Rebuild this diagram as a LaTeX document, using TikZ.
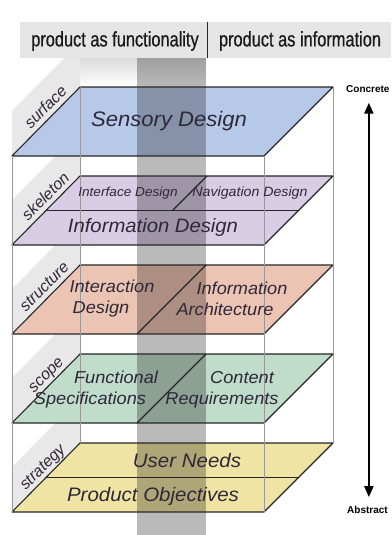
\documentclass[tikz,border=0pt]{standalone}
\usepackage{fontspec}
\setmainfont{Liberation Sans}
\newfontfamily\headfont[FakeStretch=0.78,FakeBold=0.6]{Liberation Sans}
\newfontfamily\layerfont[FakeStretch=1.05]{Liberation Sans}
\usetikzlibrary{calc,arrows.meta}
\definecolor{surfacecol}{RGB}{183,201,232}
\definecolor{skeletoncol}{RGB}{217,205,230}
\definecolor{structurecol}{RGB}{236,196,180}
\definecolor{scopecol}{RGB}{192,220,202}
\definecolor{strategycol}{RGB}{240,228,164}
\definecolor{inkcol}{RGB}{46,40,56}
\tikzset{
	tabfill/.style={fill=black!9},
	tablabel/.style={font=\itshape\fontsize{16}{16}\selectfont, text=inkcol, rotate=45, inner sep=0pt},
	planeedge/.style={draw=black!85, line width=1.1pt, line join=round},
	boxedge/.style={draw=black!40, line width=0.8pt},
	layertext/.style={font=\layerfont\itshape, text=inkcol, inner sep=0pt, align=center},
	sidetext/.style={font=\bfseries\fontsize{10}{12}\selectfont, inner sep=0pt}
}
% #1 top of the plane, #2 fill, #3 tab text, #4 place of the text along the edge
\newcommand{\makelayer}[4]{
	\fill[tabfill] (12,#1+69) -- (80,#1) -- (80,#1-45) -- (12,#1+24) -- cycle;
	\node[tablabel, anchor=base] (#3) at ($(12,#1+69)!#4!(80,#1)+(-3.5,-3.5)$) {#3};
	\fill[#2] (80,#1) -- (333,#1) -- (264,#1+69) -- (12,#1+69) -- cycle;
}
\newcommand{\makeedge}[1]{
	\draw[planeedge] (80,#1) -- (333,#1) -- (264,#1+69) -- (12,#1+69) -- cycle;
}

\begin{document}
\begin{tikzpicture}[x=1pt,y=-1pt]
	\useasboundingbox (0,0) rectangle (391,535);
	\shade[top color=black!14, bottom color=white] (80,58) rectangle (206,87);

	\makelayer{443}{strategycol}{strategy}{0.55}
	\makelayer{354}{scopecol}{scope}{0.6}
	\makelayer{265}{structurecol}{structure}{0.58}
	\makelayer{176}{skeletoncol}{skeleton}{0.6}
	\makelayer{87}{surfacecol}{surface}{0.6}

	% the grey column
	\fill[black, fill opacity=0.27] (137,58) rectangle (206,535);

	\makeedge{87}
	\makeedge{176}
	\makeedge{265}
	\makeedge{354}
	\makeedge{443}
	\draw[planeedge] (46.5,210.5) -- (298.5,210.5);
	\draw[planeedge] (207,176) -- (172.5,210.5);
	\draw[planeedge] (206,265) -- (137,334);
	\draw[planeedge] (206,354) -- (137,423);
	\draw[planeedge] (46.5,477.5) -- (298.5,477.5);

	\draw[boxedge] (12,156) -- (12,512);
	\draw[boxedge] (264,156) -- (264,512);
	\draw[boxedge] (80,87) -- (80,443);
	\draw[boxedge] (333,87) -- (333,443);

	\node[layertext, font=\layerfont\itshape\fontsize{21}{24}\selectfont] (sensory) at (169,121) {Sensory Design};
	\node[layertext, font=\layerfont\itshape\fontsize{13}{14}\selectfont] (interface) at (128,193) {Interface Design};
	\node[layertext, font=\layerfont\itshape\fontsize{13.5}{14}\selectfont] (navigation) at (250,193) {Navigation Design};
	\node[layertext, font=\layerfont\itshape\fontsize{19.3}{22}\selectfont] (infodesign) at (153,228) {Information Design};
	\node[layertext, font=\layerfont\itshape\fontsize{17.3}{21}\selectfont] (interaction) at (112,298.5) {Interaction\\\hspace*{-22pt}Design};
	\node[layertext, font=\layerfont\itshape\fontsize{17.3}{21}\selectfont] (infoarch) at (242,298.5) {Information\\\hspace*{-34pt}Architecture};
	\node[layertext, font=\layerfont\itshape\fontsize{17.3}{21}\selectfont] (functional) at (116,390) {Functional\\\hspace*{-52pt}Specifications};
	\node[layertext, font=\layerfont\itshape\fontsize{17.3}{21}\selectfont] (content) at (242,390) {Content\\\hspace*{-40pt}Requirements};
	\node[layertext, font=\layerfont\itshape\fontsize{19.5}{22}\selectfont] (userneeds) at (187,461) {User Needs};
	\node[layertext, font=\layerfont\itshape\fontsize{19.5}{22}\selectfont] (objectives) at (153,496) {Product Objectives};

	% header
	\fill[black!10] (20,22) rectangle (391,58);
	\draw[black!85, line width=1pt] (207,22) -- (207,58);
	\node[font=\headfont\fontsize{21}{24}\selectfont, text=black!90, inner sep=0pt] (functionality) at (115,41) {product as functionality};
	\node[font=\headfont\fontsize{21}{24}\selectfont, text=black!90, inner sep=0pt] (information) at (300,41) {product as information};

	\node[sidetext, anchor=west] (concrete) at (346,89) {Concrete};
	\node[sidetext, anchor=west] (abstract) at (347,510) {Abstract};
	\draw[line width=2.2pt, {Triangle[width=9pt,length=11pt]}-{Triangle[width=9pt,length=11pt]}, shorten <=10pt, shorten >=9pt] (concrete.south) ++(1,0) coordinate (top) (top) -- (top |- abstract.north);
\end{tikzpicture}
\end{document}
